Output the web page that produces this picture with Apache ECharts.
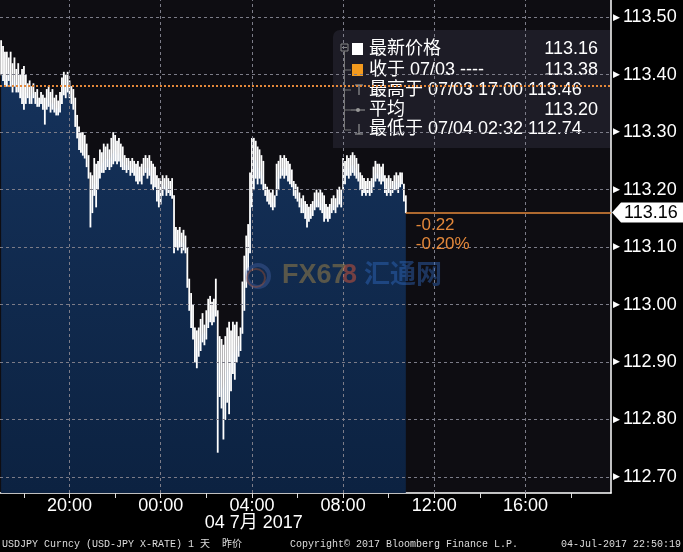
<!DOCTYPE html>
<html><head><meta charset="utf-8">
<script src="https://cdn.jsdelivr.net/npm/echarts@6/dist/echarts.min.js"></script>
<style>html,body{margin:0;padding:0;background:#000;}#c{width:683px;height:552px;}</style>
</head><body><div id="c"></div>
<script>
// ---- data (USDJPY 5-minute bars starting 07/03 17:00) ----
const START_HOUR = 17;
const STEP_MIN = 5;
const HIGHS = [
113.46,113.45,113.44,113.44,113.43,113.44,113.42,113.43,113.41,113.42,
113.40,113.41,113.415,113.40,113.385,113.39,113.38,113.385,113.37,113.375,
113.36,113.37,113.365,113.36,113.375,113.38,113.37,113.375,113.36,113.365,
113.355,113.37,113.395,113.405,113.40,113.405,113.39,113.38,113.375,113.36,
113.33,113.31,113.30,113.30,113.295,113.28,113.26,113.23,113.225,113.255,
113.245,113.25,113.27,113.265,113.28,113.275,113.28,113.27,113.29,113.30,
113.295,113.285,113.29,113.28,113.275,113.26,113.255,113.255,113.25,113.255,
113.25,113.245,113.25,113.24,113.245,113.255,113.26,113.255,113.26,113.25,
113.245,113.24,113.225,113.22,113.215,113.225,113.22,113.225,113.22,113.215,
113.22,113.19,113.135,113.13,113.135,113.125,113.13,113.12,113.10,113.045,
113.02,113.00,112.96,112.955,112.96,112.975,112.985,112.965,112.99,113.01,
113.015,113.005,113.01,113.045,112.99,112.945,112.94,112.93,112.945,112.96,
112.97,112.955,112.97,112.965,112.97,112.945,112.96,113.04,113.085,113.12,
113.14,113.23,113.29,113.29,113.285,113.275,113.27,113.26,113.25,113.21,
113.205,113.20,113.195,113.20,113.19,113.245,113.25,113.26,113.255,113.26,
113.255,113.25,113.245,113.235,113.215,113.21,113.205,113.195,113.185,113.19,
113.18,113.175,113.17,113.175,113.18,113.195,113.20,113.195,113.20,113.195,
113.19,113.175,113.17,113.175,113.185,113.19,113.185,113.20,113.205,113.20,
113.255,113.25,113.26,113.255,113.26,113.265,113.26,113.255,113.245,113.23,
113.225,113.22,113.215,113.22,113.215,113.22,113.24,113.25,113.245,113.245,
113.24,113.245,113.225,113.22,113.225,113.22,113.215,113.225,113.23,113.225,
113.23,113.23,113.21,113.19];
const LOWS = [
113.40,113.39,113.38,113.38,113.39,113.38,113.37,113.38,113.37,113.37,
113.36,113.35,113.34,113.35,113.36,113.35,113.35,113.36,113.35,113.345,
113.345,113.35,113.34,113.314,113.34,113.345,113.335,113.34,113.335,113.33,
113.33,113.335,113.35,113.365,113.36,113.37,113.36,113.35,113.34,113.31,
113.29,113.27,113.265,113.26,113.255,113.24,113.22,113.135,113.16,113.19,
113.17,113.20,113.22,113.23,113.23,113.235,113.24,113.235,113.24,113.245,
113.25,113.245,113.25,113.24,113.235,113.235,113.23,113.235,113.225,113.23,
113.225,113.215,113.21,113.215,113.21,113.225,113.23,113.22,113.225,113.21,
113.20,113.205,113.18,113.17,113.175,113.19,113.20,113.19,113.195,113.19,
113.185,113.09,113.10,113.095,113.10,113.09,113.095,113.09,113.03,112.99,
112.96,112.94,112.90,112.89,112.91,112.92,112.935,112.93,112.94,112.96,
112.97,112.965,112.97,112.98,112.743,112.84,112.82,112.766,112.80,112.83,
112.81,112.85,112.88,112.87,112.90,112.91,112.92,112.95,112.99,113.03,
113.06,113.09,113.17,113.20,113.22,113.21,113.22,113.21,113.20,113.19,
113.18,113.175,113.17,113.165,113.17,113.19,113.20,113.22,113.225,113.22,
113.225,113.215,113.21,113.205,113.19,113.185,113.18,113.17,113.16,113.16,
113.15,113.135,113.145,113.15,113.155,113.165,113.17,113.17,113.165,113.16,
113.145,113.15,113.145,113.15,113.16,113.165,113.16,113.17,113.175,113.17,
113.20,113.21,113.225,113.22,113.225,113.23,113.225,113.22,113.215,113.20,
113.19,113.195,113.19,113.195,113.19,113.195,113.205,113.215,113.22,113.215,
113.21,113.215,113.195,113.19,113.195,113.19,113.195,113.20,113.20,113.195,
113.205,113.21,113.18,113.16];
const CLOSES = [
113.41,113.40,113.39,113.40,113.41,113.39,113.385,113.40,113.38,113.39,
113.375,113.365,113.355,113.37,113.37,113.36,113.365,113.37,113.36,113.355,
113.35,113.36,113.35,113.33,113.355,113.36,113.345,113.355,113.345,113.34,
113.34,113.345,113.37,113.385,113.375,113.385,113.37,113.36,113.35,113.33,
113.30,113.28,113.275,113.27,113.265,113.25,113.23,113.18,113.20,113.215,
113.205,113.225,113.24,113.245,113.25,113.25,113.255,113.25,113.26,113.265,
113.27,113.26,113.265,113.255,113.25,113.245,113.24,113.245,113.235,113.24,
113.235,113.23,113.225,113.225,113.22,113.235,113.24,113.235,113.24,113.225,
113.22,113.215,113.20,113.19,113.195,113.205,113.21,113.20,113.205,113.20,
113.195,113.12,113.115,113.11,113.115,113.105,113.11,113.10,113.05,113.00,
112.98,112.96,112.93,112.92,112.935,112.94,112.955,112.945,112.955,112.975,
112.99,112.985,112.99,113.00,112.90,112.89,112.86,112.85,112.87,112.90,
112.88,112.91,112.92,112.91,112.93,112.925,112.94,113.00,113.04,113.07,
113.10,113.18,113.21,113.25,113.255,113.24,113.24,113.23,113.22,113.20,
113.19,113.185,113.18,113.175,113.18,113.22,113.225,113.24,113.235,113.235,
113.24,113.23,113.22,113.215,113.20,113.195,113.19,113.18,113.17,113.175,
113.16,113.15,113.155,113.16,113.165,113.18,113.185,113.18,113.18,113.175,
113.165,113.16,113.155,113.16,113.17,113.175,113.17,113.185,113.19,113.18,
113.23,113.235,113.24,113.235,113.24,113.245,113.24,113.235,113.225,113.21,
113.205,113.20,113.20,113.205,113.20,113.205,113.22,113.23,113.23,113.225,
113.225,113.23,113.21,113.20,113.205,113.20,113.205,113.21,113.215,113.21,
113.215,113.22,113.19,113.16];

const Y_TICKS = [112.70,112.80,112.90,113.00,113.10,113.20,113.30,113.40,113.50];
const X_LABEL_HOURS = [20,24,28,32,36,40];
const X_TICK_HOURS = [18,20,22,24,26,28,30,32,34,36,38,40,42];
const PREV_CLOSE = 113.38;
const LAST_PRICE = 113.16;
const CHANGE_TEXT = ['-0.22', '-0.20%'];
const LEGEND_ROWS = [
  ['最新价格', '113.16'],
  ['收于 07/03 ----', '113.38'],
  ['最高于 07/03 17:00 113.46', ''],
  ['平均', '113.20'],
  ['最低于 07/04 02:32 112.74', '']
];
const DATE_LABEL = '04 7月 2017';
const FOOTER = ['USDJPY Curncy (USD-JPY X-RATE) 1 天  昨价', 'Copyright© 2017 Bloomberg Finance L.P.', '04-Jul-2017 22:50:19'];

// ---- build ----
const SANS = "'Liberation Sans','Noto Sans CJK SC',sans-serif";
const MONO = "'Liberation Mono','Noto Sans CJK SC',monospace";
const ORANGE = '#e4883a';
const times = HIGHS.map((_, i) => START_HOUR + i * STEP_MIN / 60);
const barData = times.map((t, i) => [t, LOWS[i], HIGHS[i]]);
const closeData = times.map((t, i) => [t, CLOSES[i]]);
const lastT = times[times.length - 1];
const X_MIN = 16.95, X_MAX = 43.75;

const gridLine = {color: '#7c7c88', type: [3, 3], width: 1, opacity: 1};
const gridMarks = [];
Y_TICKS.forEach(v => gridMarks.push({yAxis: v}));
X_LABEL_HOURS.forEach(v => gridMarks.push({xAxis: v}));

const chart = echarts.init(document.getElementById('c'), null, {renderer: 'canvas'});
chart.setOption({
  backgroundColor: '#000',
  animation: false,
  grid: {left: 0, right: 72, top: 0, bottom: 59, show: true, backgroundColor: '#0e0d12', borderWidth: 0},
  xAxis: {
    type: 'value', min: X_MIN, max: X_MAX,
    axisLine: {show: true, lineStyle: {color: '#fff', width: 1.5}},
    axisTick: {show: true, customValues: X_TICK_HOURS, length: 5, lineStyle: {color: '#ddd'}},
    axisLabel: {customValues: X_LABEL_HOURS, color: '#fff', fontSize: 18, fontFamily: SANS, margin: 4,
      formatter: v => String(Math.round(v) % 24).padStart(2, '0') + ':00'},
    splitLine: {show: false}
  },
  yAxis: {
    type: 'value', position: 'right', min: 112.672, max: 113.530,
    axisLine: {show: true, lineStyle: {color: '#fff', width: 1.5}},
    axisTick: {show: false},
    splitLine: {show: false},
    axisLabel: {customValues: Y_TICKS, margin: 2,
      formatter: v => '{t|▶}{v|' + v.toFixed(2) + '}',
      rich: {t: {fontSize: 9, color: '#fff', padding: [0, 3, 0, 0], fontFamily: "'DejaVu Sans'"},
             v: {fontSize: 18, color: '#fff', fontFamily: SANS}}}
  },
  series: [
    {
      type: 'line', data: closeData, showSymbol: false, z: 2,
      lineStyle: {width: 0, color: 'transparent'},
      areaStyle: {origin: 'start', opacity: 1, color: new echarts.graphic.LinearGradient(0, 0, 0, 1, [
        {offset: 0, color: '#15325b'}, {offset: 1, color: '#0c2241'}])}
    },
    {
      type: 'line', data: [], z: 3, silent: true,
      markLine: {silent: true, symbol: 'none', label: {show: false}, lineStyle: gridLine, data: gridMarks, animation: false}
    },
    {
      type: 'custom', z: 4, data: barData, encode: {x: 0, y: [1, 2]},
      renderItem: (params, api) => {
        const t = api.value(0);
        const lo = api.coord([t, api.value(1)]);
        const hi = api.coord([t, api.value(2)]);
        return {type: 'line', shape: {x1: lo[0], y1: lo[1] + 0.5, x2: hi[0], y2: hi[1]},
          style: {stroke: '#fff', lineWidth: 1.8}};
      }
    },
    {
      type: 'line', data: [], z: 5, silent: true,
      markLine: {silent: true, symbol: 'none', label: {show: false}, animation: false, data: [
        {yAxis: PREV_CLOSE, lineStyle: {color: ORANGE, type: [2, 2], width: 2}},
        [{coord: [lastT, LAST_PRICE], lineStyle: {color: ORANGE, type: 'solid', width: 1.5}}, {coord: [X_MAX, LAST_PRICE]}]
      ]}
    }
  ]
});

// ---- overlays positioned through the axes ----
const yLast = chart.convertToPixel({yAxisIndex: 0}, LAST_PRICE);
const xLast = chart.convertToPixel({xAxisIndex: 0}, lastT);
const xRight = chart.convertToPixel({xAxisIndex: 0}, X_MAX);
const xDate = chart.convertToPixel({xAxisIndex: 0}, 29.0);

const legendX = 333, legendY = 30;
const rowY = [49, 70, 90, 110, 129];
const legendChildren = [
  {type: 'rect', shape: {x: legendX, y: legendY, width: xRight - legendX, height: 118, r: [7, 0, 0, 0]},
   style: {fill: 'rgba(42,42,54,0.55)'}},
  {type: 'rect', shape: {x: 341, y: 44, width: 7, height: 7}, style: {fill: 'none', stroke: '#888', lineWidth: 1}},
  {type: 'line', shape: {x1: 342, y1: 47.5, x2: 347, y2: 47.5}, style: {stroke: '#888', lineWidth: 1}},
  {type: 'line', shape: {x1: 344.5, y1: 51, x2: 344.5, y2: 130}, style: {stroke: '#777', lineWidth: 1}},
  {type: 'line', shape: {x1: 344.5, y1: 70, x2: 351, y2: 70}, style: {stroke: '#777', lineWidth: 1}},
  {type: 'line', shape: {x1: 344.5, y1: 90, x2: 351, y2: 90}, style: {stroke: '#777', lineWidth: 1}},
  {type: 'line', shape: {x1: 344.5, y1: 110, x2: 351, y2: 110}, style: {stroke: '#777', lineWidth: 1}},
  {type: 'line', shape: {x1: 344.5, y1: 130, x2: 351, y2: 130}, style: {stroke: '#777', lineWidth: 1}},
  {type: 'rect', shape: {x: 352, y: 43, width: 11, height: 12}, style: {fill: '#fff'}},
  {type: 'rect', shape: {x: 352, y: 64, width: 11, height: 12}, style: {fill: '#f39a1e'}},
  {type: 'line', shape: {x1: 355, y1: 85, x2: 363, y2: 85}, style: {stroke: '#aaa', lineWidth: 1}},
  {type: 'line', shape: {x1: 359, y1: 85, x2: 359, y2: 95}, style: {stroke: '#aaa', lineWidth: 1}},
  {type: 'line', shape: {x1: 351, y1: 110, x2: 365, y2: 110}, style: {stroke: '#999', lineWidth: 1}},
  {type: 'circle', shape: {cx: 358, cy: 110, r: 2}, style: {fill: '#999'}},
  {type: 'line', shape: {x1: 359, y1: 124, x2: 359, y2: 134}, style: {stroke: '#aaa', lineWidth: 1}},
  {type: 'line', shape: {x1: 355, y1: 134, x2: 363, y2: 134}, style: {stroke: '#aaa', lineWidth: 1}}
];
LEGEND_ROWS.forEach((r, i) => {
  legendChildren.push({type: 'text', x: 369, y: rowY[i], style: {text: r[0], fill: '#fff', font: '18px ' + SANS, textVerticalAlign: 'middle'}});
  if (r[1]) legendChildren.push({type: 'text', x: 598, y: rowY[i], style: {text: r[1], fill: '#fff', font: '18px ' + SANS, textAlign: 'right', textVerticalAlign: 'middle'}});
});

chart.setOption({
  graphic: [
    {type: 'group', z: 10, children: legendChildren},
    {type: 'polygon', z: 10, shape: {points: [[xRight + 1, yLast], [xRight + 10, yLast - 10], [683, yLast - 10], [683, yLast + 10], [xRight + 10, yLast + 10]]},
     style: {fill: '#fff'}},
    {type: 'text', z: 11, x: xRight + 13, y: yLast, style: {text: LAST_PRICE.toFixed(2), fill: '#000', font: '18px ' + SANS, textVerticalAlign: 'middle'}},
    {type: 'text', z: 10, x: xLast + 10, y: yLast + 13, style: {text: CHANGE_TEXT[0], fill: ORANGE, font: '17px ' + SANS, textVerticalAlign: 'middle'}},
    {type: 'text', z: 10, x: xLast + 10, y: yLast + 32, style: {text: CHANGE_TEXT[1], fill: ORANGE, font: '17px ' + SANS, textVerticalAlign: 'middle'}},
    {type: 'circle', z: 9, shape: {cx: 258, cy: 276, r: 11}, style: {fill: 'none', stroke: 'rgba(80,110,180,0.35)', lineWidth: 4}},
    {type: 'circle', z: 9, shape: {cx: 256, cy: 278, r: 9}, style: {fill: 'none', stroke: 'rgba(200,90,40,0.35)', lineWidth: 2}},
    {type: 'text', z: 9, x: 282, y: 276, style: {text: 'FX67', fill: 'rgba(190,150,70,0.42)', font: 'bold 27px ' + SANS, textVerticalAlign: 'middle'}},
    {type: 'text', z: 9, x: 342, y: 276, style: {text: '8', fill: 'rgba(215,85,55,0.5)', font: 'bold 27px ' + SANS, textVerticalAlign: 'middle'}},
    {type: 'text', z: 9, x: 364, y: 276, style: {text: '汇通网', fill: 'rgba(50,110,200,0.42)', font: 'bold 26px ' + SANS, textVerticalAlign: 'middle'}},
    {type: 'text', z: 10, x: xDate - 21, y: 523, style: {text: DATE_LABEL, fill: '#fff', font: '18px ' + SANS, textAlign: 'center', textVerticalAlign: 'middle'}},
    {type: 'text', z: 10, x: 2, y: 544, style: {text: FOOTER[0], fill: '#ddd', font: '10px ' + MONO, textVerticalAlign: 'middle'}},
    {type: 'text', z: 10, x: 290, y: 544, style: {text: FOOTER[1], fill: '#ddd', font: '10px ' + MONO, textVerticalAlign: 'middle'}},
    {type: 'text', z: 10, x: 681, y: 544, style: {text: FOOTER[2], fill: '#ddd', font: '10px ' + MONO, textAlign: 'right', textVerticalAlign: 'middle'}}
  ]
});
</script></body></html>
